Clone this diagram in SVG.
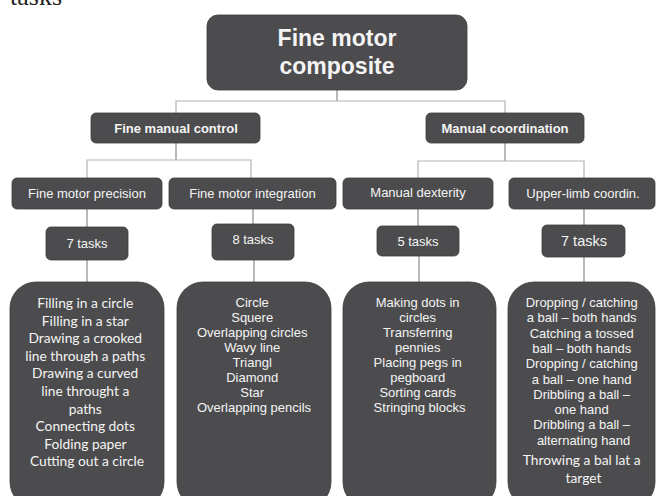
<svg xmlns="http://www.w3.org/2000/svg" width="656" height="496" viewBox="0 0 656 496">
<style>
.box{fill:#4c4c4e;stroke:#3c3c3e;stroke-width:0.8}
.t{font-family:"Liberation Sans",Arial,sans-serif;fill:#f4f4f4;text-anchor:middle}
.b{font-weight:bold}
.c{font-family:Lato,"Open Sans",sans-serif;fill:#f4f4f4;text-anchor:middle;font-size:13.8px}
.ln{stroke:#b4b4b4;stroke-width:1.2;fill:none}
.lv{stroke:#8a8a8a;stroke-width:1.2;fill:none}
</style>
<rect width="656" height="496" fill="#ffffff"/>
<text x="10" y="5" font-family="Liberation Serif,serif" font-size="26" fill="#222">tasks</text>
<g id="connectors">
<path class="lv" d="M337 90V101"/>
<path class="ln" d="M176 113V101H505V113"/>
<path class="lv" d="M176 143V160"/>
<path class="ln" d="M87 178V160H251V178"/>
<path class="lv" d="M505 143V161"/>
<path class="ln" d="M418 178V161H584V178"/>
<path class="lv" d="M87 209V227M87 260V282"/>
<path class="lv" d="M253 209V224M254 260V282"/>
<path class="lv" d="M418 209V226M419 256V282"/>
<path class="lv" d="M584 209V225M584 257V282"/>
</g>
<g id="root">
<rect class="box" x="207" y="15" width="260" height="75" rx="11"/>
<text class="t b" x="337" y="46" font-size="23">Fine motor</text>
<text class="t b" x="337" y="74" font-size="23">composite</text>
</g>
<g id="fine-manual-control">
<rect class="box" x="91" y="113" width="169" height="30" rx="5"/>
<text class="t b" x="176" y="132.5" font-size="13">Fine manual control</text>
</g>
<g id="manual-coordination">
<rect class="box" x="426" y="113" width="158" height="30" rx="5"/>
<text class="t b" x="505" y="132.5" font-size="13">Manual coordination</text>
</g>
<g id="fine-motor-precision">
<rect class="box" x="12" y="178" width="150" height="31" rx="5"/>
<text class="t" x="87" y="197.5" font-size="13">Fine motor precision</text>
</g>
<g id="fine-motor-integration">
<rect class="box" x="169" y="178" width="167" height="31" rx="5"/>
<text class="t" x="252.5" y="197.5" font-size="13">Fine motor integration</text>
</g>
<g id="manual-dexterity">
<rect class="box" x="343" y="178" width="150" height="31" rx="5"/>
<text class="t" x="418" y="197" font-size="13">Manual dexterity</text>
</g>
<g id="upper-limb">
<rect class="box" x="509" y="178" width="146" height="31" rx="5"/>
<text class="t" x="583" y="198" font-size="13">Upper-limb coordin.</text>
</g>
<g id="tasks-1">
<rect class="box" x="46" y="227" width="82" height="33" rx="5"/>
<text class="t" x="87" y="248" font-size="13">7 tasks</text>
</g>
<g id="tasks-2">
<rect class="box" x="212" y="224" width="82" height="36" rx="5"/>
<text class="t" x="253" y="244" font-size="13">8 tasks</text>
</g>
<g id="tasks-3">
<rect class="box" x="377" y="226" width="82" height="30" rx="5"/>
<text class="t" x="418" y="245.5" font-size="13">5 tasks</text>
</g>
<g id="tasks-4">
<rect class="box" x="542" y="225" width="83" height="32" rx="5"/>
<text class="t" x="584" y="246" font-size="14.5">7 tasks</text>
</g>
<g id="list-1">
<rect class="box" x="10" y="282" width="154" height="226" rx="26"/>
<text class="c" x="87">
<tspan x="87" y="308">Filling in a circle</tspan>
<tspan x="87" y="325.6">Filling in a star</tspan>
<tspan x="87" y="343.2">Drawing a crooked</tspan>
<tspan x="87" y="360.8">line through a paths</tspan>
<tspan x="87" y="378.4">Drawing a curved</tspan>
<tspan x="87" y="396">line throught a</tspan>
<tspan x="87" y="413.6">paths</tspan>
<tspan x="87" y="431.2">Connecting dots</tspan>
<tspan x="87" y="448.8">Folding paper</tspan>
<tspan x="87" y="466.4">Cutting out a circle</tspan>
</text>
</g>
<g id="list-2">
<rect class="box" x="177" y="282" width="154" height="226" rx="26"/>
<text class="t" font-size="13">
<tspan x="254" y="307.3">Circle</tspan>
<tspan x="254" y="322.2">Squere</tspan>
<tspan x="254" y="337.1">Overlapping circles</tspan>
<tspan x="254" y="352">Wavy line</tspan>
<tspan x="254" y="366.9">Triangl</tspan>
<tspan x="254" y="381.8">Diamond</tspan>
<tspan x="254" y="396.7">Star</tspan>
<tspan x="254" y="411.6">Overlapping pencils</tspan>
</text>
</g>
<g id="list-3">
<rect class="box" x="343" y="282" width="153" height="226" rx="26"/>
<text class="t" font-size="13">
<tspan x="419.5" y="307.3">Making dots in</tspan>
<tspan x="419.5" y="322.2">circles</tspan>
<tspan x="419.5" y="337.1">Transferring</tspan>
<tspan x="419.5" y="352">pennies</tspan>
<tspan x="419.5" y="366.9">Placing pegs in</tspan>
<tspan x="419.5" y="381.8">pegboard</tspan>
<tspan x="419.5" y="396.7">Sorting cards</tspan>
<tspan x="419.5" y="411.6">Stringing blocks</tspan>
</text>
</g>
<g id="list-4">
<rect class="box" x="508" y="282" width="147" height="226" rx="26"/>
<text class="t" font-size="13">
<tspan x="583.5" y="307">Dropping / catching</tspan>
<tspan x="583.5" y="322.3">a ball – both hands</tspan>
<tspan x="583.5" y="337.6">Catching a tossed</tspan>
<tspan x="583.5" y="352.9">ball – both hands</tspan>
<tspan x="583.5" y="368.2">Dropping / catching</tspan>
<tspan x="583.5" y="383.5">a ball – one hand</tspan>
<tspan x="583.5" y="398.8">Dribbling a ball –</tspan>
<tspan x="583.5" y="414.1">one hand</tspan>
<tspan x="583.5" y="429.4">Dribbling a ball –</tspan>
<tspan x="583.5" y="444.7">alternating hand</tspan>
</text>
<text class="c">
<tspan x="583.5" y="464.5">Throwing a bal lat a</tspan>
<tspan x="583.5" y="483">target</tspan>
</text>
</g>
</svg>
